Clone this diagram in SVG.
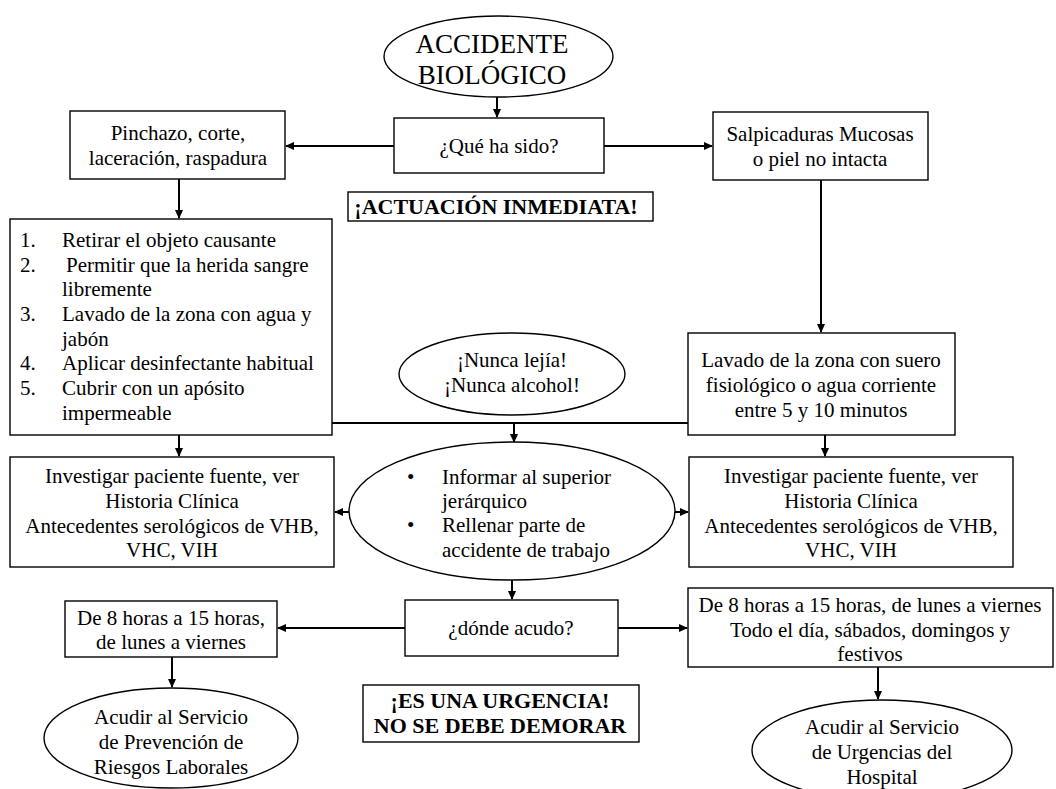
<svg xmlns="http://www.w3.org/2000/svg" width="1056" height="789" viewBox="0 0 1056 789" font-family="Liberation Serif, DejaVu Serif, serif">
<style>
text{font-family:"Liberation Serif","DejaVu Serif",serif}
.n{fill:#fff;stroke:#000;stroke-width:1.4}
.t{font-size:21px;fill:#000}
.c{text-anchor:middle}
.b{font-weight:bold;font-size:22px}
.big{font-size:27px}
.e{stroke:#000;stroke-width:2;fill:none}
</style>
<defs>
<marker id="ah" markerWidth="9" markerHeight="8" refX="8" refY="4" orient="auto" markerUnits="userSpaceOnUse">
<path d="M0,0 L9,4 L0,8 z" fill="#000"/>
</marker>
</defs>
<rect width="1056" height="789" fill="#fff"/>
<g id="connectors">
<line class="e" x1="497" y1="97" x2="497" y2="117" marker-end="url(#ah)"/>
<line class="e" x1="394" y1="146" x2="286" y2="146" marker-end="url(#ah)"/>
<line class="e" x1="604" y1="146" x2="712" y2="146" marker-end="url(#ah)"/>
<line class="e" x1="179" y1="179" x2="179" y2="218" marker-end="url(#ah)"/>
<line class="e" x1="821" y1="180" x2="821" y2="332" marker-end="url(#ah)"/>
<line class="e" x1="332" y1="423" x2="688" y2="423"/>
<line class="e" x1="514" y1="423" x2="514" y2="442" marker-end="url(#ah)"/>
<line class="e" x1="179" y1="435" x2="179" y2="456" marker-end="url(#ah)"/>
<line class="e" x1="825" y1="435" x2="825" y2="456" marker-end="url(#ah)"/>
<line class="e" x1="350" y1="512" x2="335" y2="512" marker-end="url(#ah)"/>
<line class="e" x1="675" y1="512" x2="688" y2="512" marker-end="url(#ah)"/>
<line class="e" x1="512" y1="580" x2="512" y2="599" marker-end="url(#ah)"/>
<line class="e" x1="405" y1="628" x2="278" y2="628" marker-end="url(#ah)"/>
<line class="e" x1="618" y1="628" x2="687" y2="628" marker-end="url(#ah)"/>
<line class="e" x1="172" y1="657" x2="172" y2="687" marker-end="url(#ah)"/>
<line class="e" x1="878" y1="667" x2="878" y2="699" marker-end="url(#ah)"/>
</g>
<g id="accidente">
<ellipse class="n" cx="498.5" cy="56.5" rx="114.5" ry="40.5"/>
<text class="t c big" x="492" y="53">ACCIDENTE</text>
<text class="t c big" x="492" y="84">BIOLÓGICO</text>
</g>
<g id="que">
<rect class="n" x="394" y="118" width="210" height="55"/>
<text class="t c" x="499" y="153">¿Qué ha sido?</text>
</g>
<g id="pinchazo">
<rect class="n" x="70" y="111" width="215" height="68"/>
<text class="t c" x="178" y="140">Pinchazo,  corte,</text>
<text class="t c" x="178" y="165">laceración,  raspadura</text>
</g>
<g id="salpicaduras">
<rect class="n" x="713" y="112" width="215" height="68"/>
<text class="t c" x="820" y="141">Salpicaduras  Mucosas</text>
<text class="t c" x="820" y="166">o piel no intacta</text>
</g>
<g id="actuacion">
<rect class="n" x="348" y="192" width="305" height="29"/>
<text class="t c b" x="496" y="214">¡ACTUACIÓN INMEDIATA!</text>
</g>
<g id="lista">
<rect class="n" x="10" y="219" width="322" height="216"/>
<text class="t" x="20" y="247">1.</text><text class="t" x="62" y="247">Retirar el objeto causante</text>
<text class="t" x="20" y="272">2.</text><text class="t" x="66" y="272">Permitir que la herida sangre</text>
<text class="t" x="62" y="296">libremente</text>
<text class="t" x="20" y="321">3.</text><text class="t" x="62" y="321">Lavado de la zona con agua y</text>
<text class="t" x="62" y="346">jabón</text>
<text class="t" x="20" y="370">4.</text><text class="t" x="62" y="370">Aplicar desinfectante habitual</text>
<text class="t" x="20" y="395">5.</text><text class="t" x="62" y="395">Cubrir con un apósito</text>
<text class="t" x="62" y="420">impermeable</text>
</g>
<g id="nunca">
<ellipse class="n" cx="512" cy="374" rx="113" ry="41"/>
<text class="t c" x="512" y="367">¡Nunca  lejía!</text>
<text class="t c" x="512" y="392">¡Nunca  alcohol!</text>
</g>
<g id="lavado">
<rect class="n" x="688" y="333" width="267" height="102"/>
<text class="t c" x="821" y="367">Lavado  de la zona con suero</text>
<text class="t c" x="821" y="392">fisiológico  o agua corriente</text>
<text class="t c" x="821" y="417">entre 5 y 10 minutos</text>
</g>
<g id="investigar-izq">
<rect class="n" x="10" y="457" width="324" height="110"/>
<text class="t c" x="172" y="483">Investigar  paciente  fuente, ver</text>
<text class="t c" x="172" y="508">Historia  Clínica</text>
<text class="t c" x="172" y="533">Antecedentes  serológicos  de VHB,</text>
<text class="t c" x="172" y="557">VHC, VIH</text>
</g>
<g id="informar">
<ellipse class="n" cx="512" cy="511" rx="163" ry="69"/>
<text class="t" x="407" y="484">•</text><text class="t" x="442" y="484">Informar  al superior</text>
<text class="t" x="442" y="508">jerárquico</text>
<text class="t" x="407" y="532">•</text><text class="t" x="442" y="532">Rellenar parte  de</text>
<text class="t" x="442" y="557">accidente  de trabajo</text>
</g>
<g id="investigar-der">
<rect class="n" x="689" y="457" width="324" height="110"/>
<text class="t c" x="851" y="483">Investigar  paciente  fuente, ver</text>
<text class="t c" x="851" y="508">Historia  Clínica</text>
<text class="t c" x="851" y="533">Antecedentes  serológicos  de VHB,</text>
<text class="t c" x="851" y="557">VHC, VIH</text>
</g>
<g id="donde">
<rect class="n" x="405" y="600" width="213" height="56"/>
<text class="t c" x="511" y="635">¿dónde  acudo?</text>
</g>
<g id="horario-izq">
<rect class="n" x="65" y="601" width="212" height="56"/>
<text class="t c" x="171" y="625">De 8 horas  a 15 horas,</text>
<text class="t c" x="171" y="649">de lunes a viernes</text>
</g>
<g id="horario-der">
<rect class="n" x="688" y="588" width="365" height="79"/>
<text class="t c" x="870" y="612">De 8 horas  a 15 horas,  de lunes a viernes</text>
<text class="t c" x="870" y="637">Todo el día, sábados,  domingos  y</text>
<text class="t c" x="870" y="661">festivos</text>
</g>
<g id="urgencia">
<rect class="n" x="363" y="685" width="276" height="57"/>
<text class="t c b" x="500" y="708">¡ES UNA URGENCIA!</text>
<text class="t c b" x="500" y="733">NO SE DEBE DEMORAR</text>
</g>
<g id="prevencion">
<ellipse class="n" cx="171" cy="738" rx="127" ry="50"/>
<text class="t c" x="171" y="724">Acudir al Servicio</text>
<text class="t c" x="171" y="749">de Prevención  de</text>
<text class="t c" x="171" y="774">Riesgos  Laborales</text>
</g>
<g id="urgencias">
<ellipse class="n" cx="882" cy="750" rx="130" ry="50"/>
<text class="t c" x="882" y="734">Acudir  al Servicio</text>
<text class="t c" x="882" y="759">de Urgencias  del</text>
<text class="t c" x="882" y="784">Hospital</text>
</g>
</svg>
